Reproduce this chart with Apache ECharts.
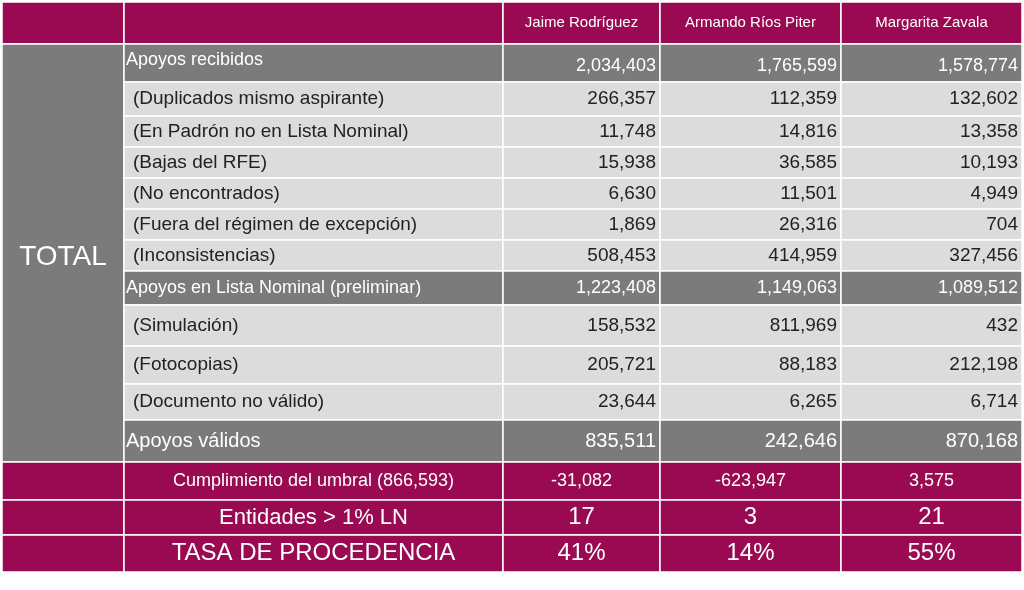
<!DOCTYPE html>
<html>
<head>
<meta charset="utf-8">
<script src="https://cdn.jsdelivr.net/npm/echarts@6/dist/echarts.min.js"></script>
<style>html,body{margin:0;padding:0;background:#fff}#main{width:1024px;height:590px}</style>
</head>
<body>
<div id="main"></div>
<script>
var candidates = ['Jaime Rodríguez', 'Armando Ríos Piter', 'Margarita Zavala'];
var rowLabels = ['Apoyos recibidos', '(Duplicados mismo aspirante)', '(En Padrón no en Lista Nominal)', '(Bajas del RFE)',
    '(No encontrados)', '(Fuera del régimen de excepción)', '(Inconsistencias)', 'Apoyos en Lista Nominal (preliminar)',
    '(Simulación)', '(Fotocopias)', '(Documento no válido)', 'Apoyos válidos'];
var jaime = ['2,034,403', '266,357', '11,748', '15,938', '6,630', '1,869', '508,453', '1,223,408', '158,532', '205,721', '23,644', '835,511'];
var armando = ['1,765,599', '112,359', '14,816', '36,585', '11,501', '26,316', '414,959', '1,149,063', '811,969', '88,183', '6,265', '242,646'];
var margarita = ['1,578,774', '132,602', '13,358', '10,193', '4,949', '704', '327,456', '1,089,512', '432', '212,198', '6,714', '870,168'];
var summaryLabels = ['Cumplimiento del umbral (866,593)', 'Entidades > 1% LN', 'TASA DE PROCEDENCIA'];
var summaryValues = [['-31,082', '-623,947', '3,575'], ['17', '3', '21'], ['41%', '14%', '55%']];

$ = null;
var chart = echarts.init(document.getElementById('main'));
var MAROON = '#990a52', DARK = '#7b7b7b', LIGHT = '#dcdcdc';
var FONT = 'Liberation Sans';
var colX = [2, 124, 503, 660, 841, 1022];
var rowY = [44, 82, 116, 147, 178, 209, 240, 271, 305, 346, 384, 420, 462];
var sumY = [462, 500, 535, 572];
var darkRows = [0, 7, 11];
var els = [];

function cell(x0, x1, y0, y1, fill) {
    els.push({type: 'rect', shape: {x: x0, y: y0, width: x1 - x0, height: y1 - y0},
        style: {fill: fill, stroke: '#fff', lineWidth: 1.5}});
}
function txt(s, x, y, size, color, align, vAlign) {
    els.push({type: 'text', x: x, y: y, style: {text: s, fontFamily: FONT, fontSize: size, fill: color,
        align: align, verticalAlign: vAlign || 'middle'}});
}

// header
cell(colX[0], colX[1], 2, 44, MAROON);
cell(colX[1], colX[2], 2, 44, MAROON);
candidates.forEach(function (c, i) {
    cell(colX[i + 2], colX[i + 3], 2, 44, MAROON);
    txt(c, (colX[i + 2] + colX[i + 3]) / 2, 23, 15, '#fff', 'center');
});

// body
cell(colX[0], colX[1], 44, 462, DARK);
txt('TOTAL', 63, 257, 28, '#fff', 'center');
var cols = [jaime, armando, margarita];
rowLabels.forEach(function (lab, r) {
    var y0 = rowY[r], y1 = rowY[r + 1], dark = darkRows.indexOf(r) >= 0;
    var fill = dark ? DARK : LIGHT, color = dark ? '#fff' : '#222';
    var size = dark ? (r === 11 ? 20 : 18) : 19;
    cell(colX[1], colX[2], y0, y1, fill);
    if (r === 0) txt(lab, 126, y0 + 16, 18, color, 'left');
    else txt(lab, dark ? 126 : 133, (y0 + y1) / 2, size, color, 'left');
    cols.forEach(function (vals, i) {
        cell(colX[i + 2], colX[i + 3], y0, y1, fill);
        txt(vals[r], colX[i + 3] - 4, (y0 + y1) / 2 + (r === 0 ? 3 : 0), size, color, 'right');
    });
});

// summary
var sumSizes = [18, 22, 24];
summaryLabels.forEach(function (lab, r) {
    var y0 = sumY[r], y1 = sumY[r + 1], cy = (y0 + y1) / 2;
    cell(colX[0], colX[1], y0, y1, MAROON);
    cell(colX[1], colX[2], y0, y1, MAROON);
    txt(lab, (colX[1] + colX[2]) / 2, cy, sumSizes[r], '#fff', 'center');
    summaryValues[r].forEach(function (v, i) {
        cell(colX[i + 2], colX[i + 3], y0, y1, MAROON);
        txt(v, (colX[i + 2] + colX[i + 3]) / 2, cy, r === 0 ? 18 : 24, '#fff', 'center');
    });
});

chart.setOption({animation: false, graphic: {elements: els}});
</script>
</body>
</html>
